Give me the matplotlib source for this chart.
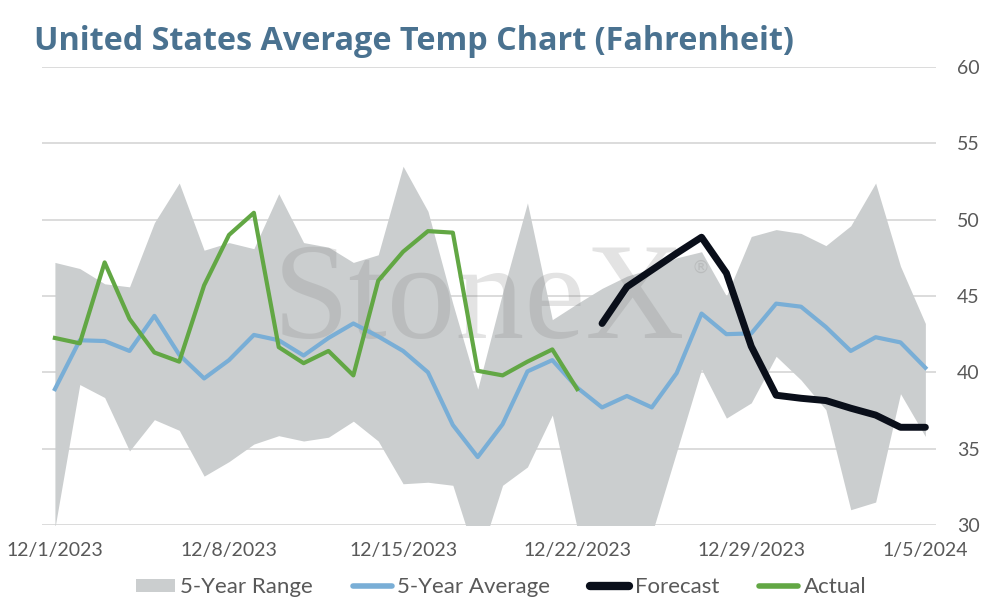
import numpy as np
import pandas as pd
import matplotlib
matplotlib.use('Agg')
import matplotlib.pyplot as plt
from matplotlib.patches import Patch
from matplotlib.lines import Line2D

plt.rcParams['font.family'] = ['Lato', 'DejaVu Sans']

dates = pd.date_range('2023-12-01', '2024-01-05', freq='D')

range_hi = [47.2, 46.8, 45.8, 45.6, 49.8, 52.4, 48.0, 48.5, 48.1, 51.7, 48.5, 48.2,
            47.2, 47.7, 53.5, 50.55, 44.5, 38.9, 45.2, 51.1, 43.45, 44.5, 45.5, 46.3,
            46.8, 47.5, 47.9, 45.0, 48.9, 49.35, 49.1, 48.3, 49.6, 52.4, 46.95, 43.2]
range_lo = [29.8, 39.2, 38.35, 34.85, 36.9, 36.2, 33.2, 34.15, 35.3, 35.85, 35.5, 35.75,
            36.8, 35.5, 32.7, 32.8, 32.6, 27.5, 32.6, 33.8, 37.2, 29.8, 28.5, 28.5,
            29.4, 34.8, 40.2, 37.0, 38.0, 41.05, 39.5, 37.55, 31.0, 31.5, 38.6, 35.8]
avg_5yr = [38.9, 42.1, 42.05, 41.4, 43.7, 41.15, 39.6, 40.8, 42.45, 42.1, 41.1, 42.25,
           43.2, 42.35, 41.4, 40.0, 36.55, 34.45, 36.6, 40.06, 40.8, 39.0, 37.7, 38.45,
           37.7, 39.95, 43.85, 42.5, 42.55, 44.5, 44.3, 42.97, 41.4, 42.3, 41.96, 40.3]
forecast = [np.nan] * 22 + [43.2, 45.6, 46.7, 47.8, 48.85, 46.5, 41.7, 38.5, 38.3, 38.15,
                            37.65, 37.2, 36.4, 36.4]
actual = [42.25, 41.9, 47.2, 43.5, 41.3, 40.7, 45.7, 49.0, 50.45, 41.65, 40.6, 41.4,
          39.8, 46.0, 47.9, 49.25, 49.15, 40.1, 39.8, 40.7, 41.5, 38.9] + [np.nan] * 14

tick_dates = dates[::7]
tick_labels = ['12/1/2023', '12/8/2023', '12/15/2023', '12/22/2023', '12/29/2023', '1/5/2024']

band_col = '#cbcecf'
blue = '#79aed6'
black = '#0a0f1a'
green = '#62a744'
txt = '#595959'

fig = plt.figure(figsize=(9.94, 6.06), dpi=100)
ax = fig.add_axes([0.042, 0.1337, 0.9, 0.7557])

ax.fill_between(dates, range_lo, range_hi, color=band_col, lw=0, zorder=1)
ax.plot(dates, avg_5yr, color=blue, lw=3, zorder=4)
ax.plot(dates, forecast, color=black, lw=5, zorder=5, solid_capstyle='round')
ax.plot(dates, actual, color=green, lw=3, zorder=4)

# watermark
ax.text(0.258, 0.408, 'StoneX', transform=ax.transAxes, ha='left', va='baseline',
        fontsize=99, family='Liberation Serif', color='#808080', alpha=0.22, zorder=3)
ax.text(0.736, 0.562, '\u00ae', transform=ax.transAxes, ha='center', va='center',
        fontsize=13, family='DejaVu Sans', color='#808080', alpha=0.22, zorder=3)

ax.set_ylim(30, 60)
ax.set_yticks(range(30, 61, 5))
ax.set_xlim(dates[0] - pd.Timedelta(hours=12.7), dates[-1] + pd.Timedelta(hours=10.6))
ax.set_xticks(tick_dates)
ax.set_xticklabels(tick_labels)
ax.yaxis.tick_right()
ax.tick_params(axis='both', length=0, labelsize=14, colors=txt)
ax.tick_params(axis='y', pad=15)
ax.tick_params(axis='x', pad=12)
ax.grid(axis='y', color='#d9d9d9', lw=1.3, zorder=0)
ax.set_axisbelow(True)
for s in ax.spines.values():
    s.set_visible(False)

fig.text(0.034, 1 - 50 / 606, 'United States Average Temp Chart (Fahrenheit)',
         fontsize=23.3, fontweight='bold', family=['Open Sans', 'DejaVu Sans'],
         color='#4a7290', va='baseline')

handles = [Patch(facecolor=band_col, edgecolor='none'),
           Line2D([], [], color=blue, lw=4, solid_capstyle='round'),
           Line2D([], [], color=black, lw=6, solid_capstyle='round'),
           Line2D([], [], color=green, lw=4, solid_capstyle='round')]
labels = ['5-Year Range', '5-Year Average', 'Forecast', 'Actual']
fig.legend(handles, labels, loc='center', bbox_to_anchor=(0.504, 0.031), ncol=4,
           frameon=False, fontsize=16, labelcolor=txt, handlelength=1.75,
           handletextpad=0.25, columnspacing=1.8, handleheight=0.55)

fig.savefig('out.png', dpi=100)
